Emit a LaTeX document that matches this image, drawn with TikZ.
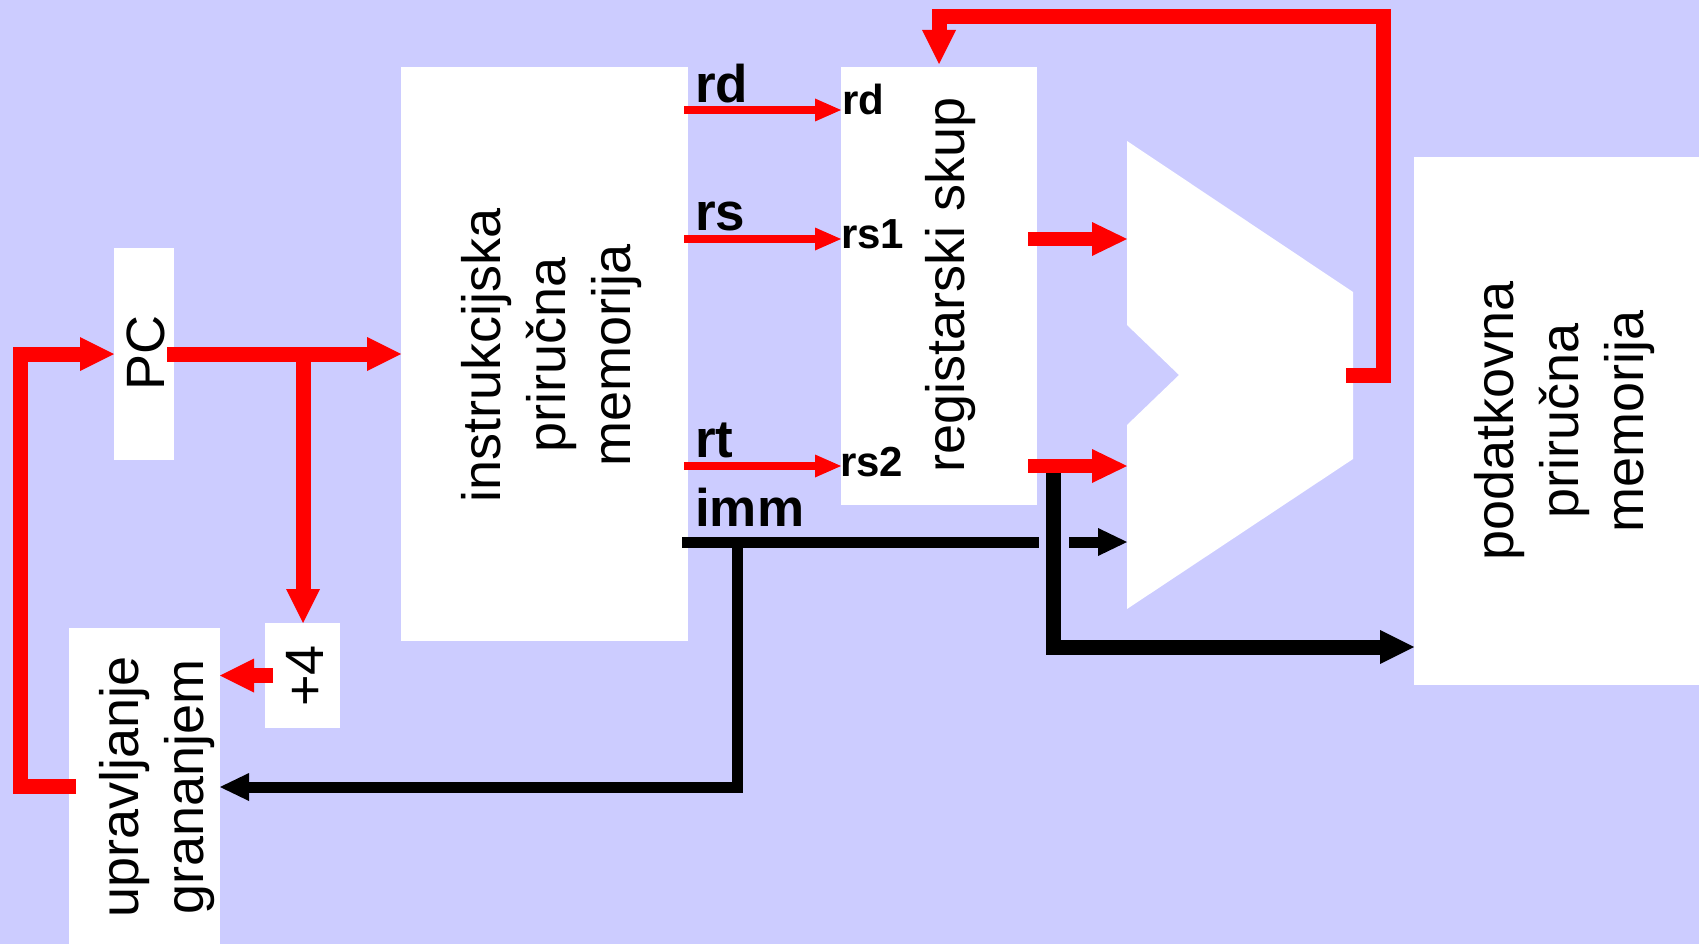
\documentclass[tikz,border=0pt]{standalone}
\usepackage{fontspec}
\setmainfont{Liberation Sans}
\usetikzlibrary{arrows.meta,calc}
\definecolor{bg}{HTML}{CCCCFF}
\definecolor{wred}{HTML}{FF0000}
\begin{document}
\begin{tikzpicture}[x=1pt,y=-1pt,
  box/.style={fill=white,draw=none,inner sep=0pt,outer sep=0pt},
  big/.style={font=\fontsize{54}{65}\selectfont,rotate=90,align=center,inner sep=0pt},
  lab/.style={font=\bfseries\fontsize{53}{60}\selectfont,anchor=base west,inner sep=0pt},
  slab/.style={font=\bfseries\fontsize{42}{48}\selectfont,anchor=base west,inner sep=0pt},
  redT/.style={draw=wred,line width=15pt,-{Triangle[length=34pt,width=34pt,line width=0pt]}},
  redM/.style={draw=wred,line width=14pt,-{Triangle[length=35pt,width=34pt,line width=0pt]}},
  redthin/.style={draw=wred,line width=8pt,-{Triangle[length=26pt,width=23pt,line width=0pt]}},
  blkT/.style={draw=black,line width=15pt,-{Triangle[length=34pt,width=34pt,line width=0pt]}},
  blkN/.style={draw=black,line width=11pt},
  blkNa/.style={blkN,-{Triangle[length=29pt,width=28pt,line width=0pt]}}
]
\fill[bg] (0,0) rectangle (1699,944);
\useasboundingbox (0,0) rectangle (1699,944);
\clip (0,0) rectangle (1699,944);

% boxes
\node[box,minimum width=60pt,minimum height=212pt] (pc) at (144,354) {};
\node[box,minimum width=287pt,minimum height=574pt] (imem) at (544.5,354) {};
\node[box,minimum width=196pt,minimum height=438pt] (reg) at (939,286) {};
\node[box,minimum width=300pt,minimum height=528pt] (dmem) at (1564,421) {};
\node[box,minimum width=75pt,minimum height=105pt] (plus4) at (302.5,675.5) {};
\node[box,minimum width=151pt,minimum height=316pt] (bctl) at (144.5,786) {};
\path[fill=white] (1127,141) -- (1353,292) -- (1353,459) -- (1127,609) -- (1127,425) -- (1179,375) -- (1127,325) -- cycle;
\coordinate (aluA) at (1127,239);
\coordinate (aluB) at (1127,466);
\coordinate (aluC) at (1127,542);
\coordinate (aluO) at (1346,375.5);

% texts
\node[big] (pc-t) at (146,353) {PC};
\node[big] (imem-t) at (552,355) {instrukcijska\\priručna\\memorija};
\node[big] (reg-t) at (951,285) {registarski skup};
\node[big] (dmem-t) at (1565,421) {podatkovna\\priručna\\memorija};
\node[big] (plus4-t) at (305,676) {+4};
\node[big] (bctl-t) at (157,787) {upravljanje\\grananjem};

\node[lab] (l-rd) at (695,103) {rd};
\node[lab] (l-rs) at (695,230) {rs};
\node[lab] (l-rt) at (695,457) {rt};
\node[lab] (l-imm) at (695,526) {imm};
\node[slab] (p-rd) at (842,115) {rd};
\node[slab] (p-rs1) at (841,248) {rs1};
\node[slab] (p-rs2) at (840,476) {rs2};

% red connectors
\draw[redT] ([xshift=7pt]bctl.west) -- ++(-56,0) |- (pc.west);
\draw[redT] ([xshift=-7pt]pc.east) -- (imem.west);
\coordinate (br) at (303,354);
\draw[redT] (br) -- (br |- plus4.north);
\draw[redT] ([xshift=8pt]plus4.west) -- (plus4.west -| bctl.east);
\draw[redT] (aluO) -- (1383.5,375.5) -- (1383.5,16.5) -- (reg.north |- 0,16.5) -- ([yshift=3pt]reg.north);

\draw[redthin] ($(imem.east |- 0,110)+(-4,0)$) -- (reg.west |- 0,110);
\draw[redthin] ($(imem.east |- 0,239)+(-4,0)$) -- (reg.west |- 0,239);
\draw[redthin] ($(imem.east |- 0,466)+(-4,0)$) -- (reg.west |- 0,466);

% black connectors
\coordinate (tap) at (1053.5,466);
\draw[blkT] (tap) |- (dmem.west |- 0,647);
\coordinate (immA) at (737,542);
\coordinate (gapL) at (1039,542);
\coordinate (gapR) at (1069,542);
\draw[blkN] ($(imem.east |- immA)+(-6,0)$) -- (gapL);
\draw[blkNa] (gapR) -- (aluC);
\draw[blkNa] (immA) |- (bctl.east |- 0,787);

\draw[redM] ($(reg.east |- aluA)+(-9,0)$) -- (aluA);
\draw[redM] ($(reg.east |- aluB)+(-9,0)$) -- (aluB);
\end{tikzpicture}
\end{document}
